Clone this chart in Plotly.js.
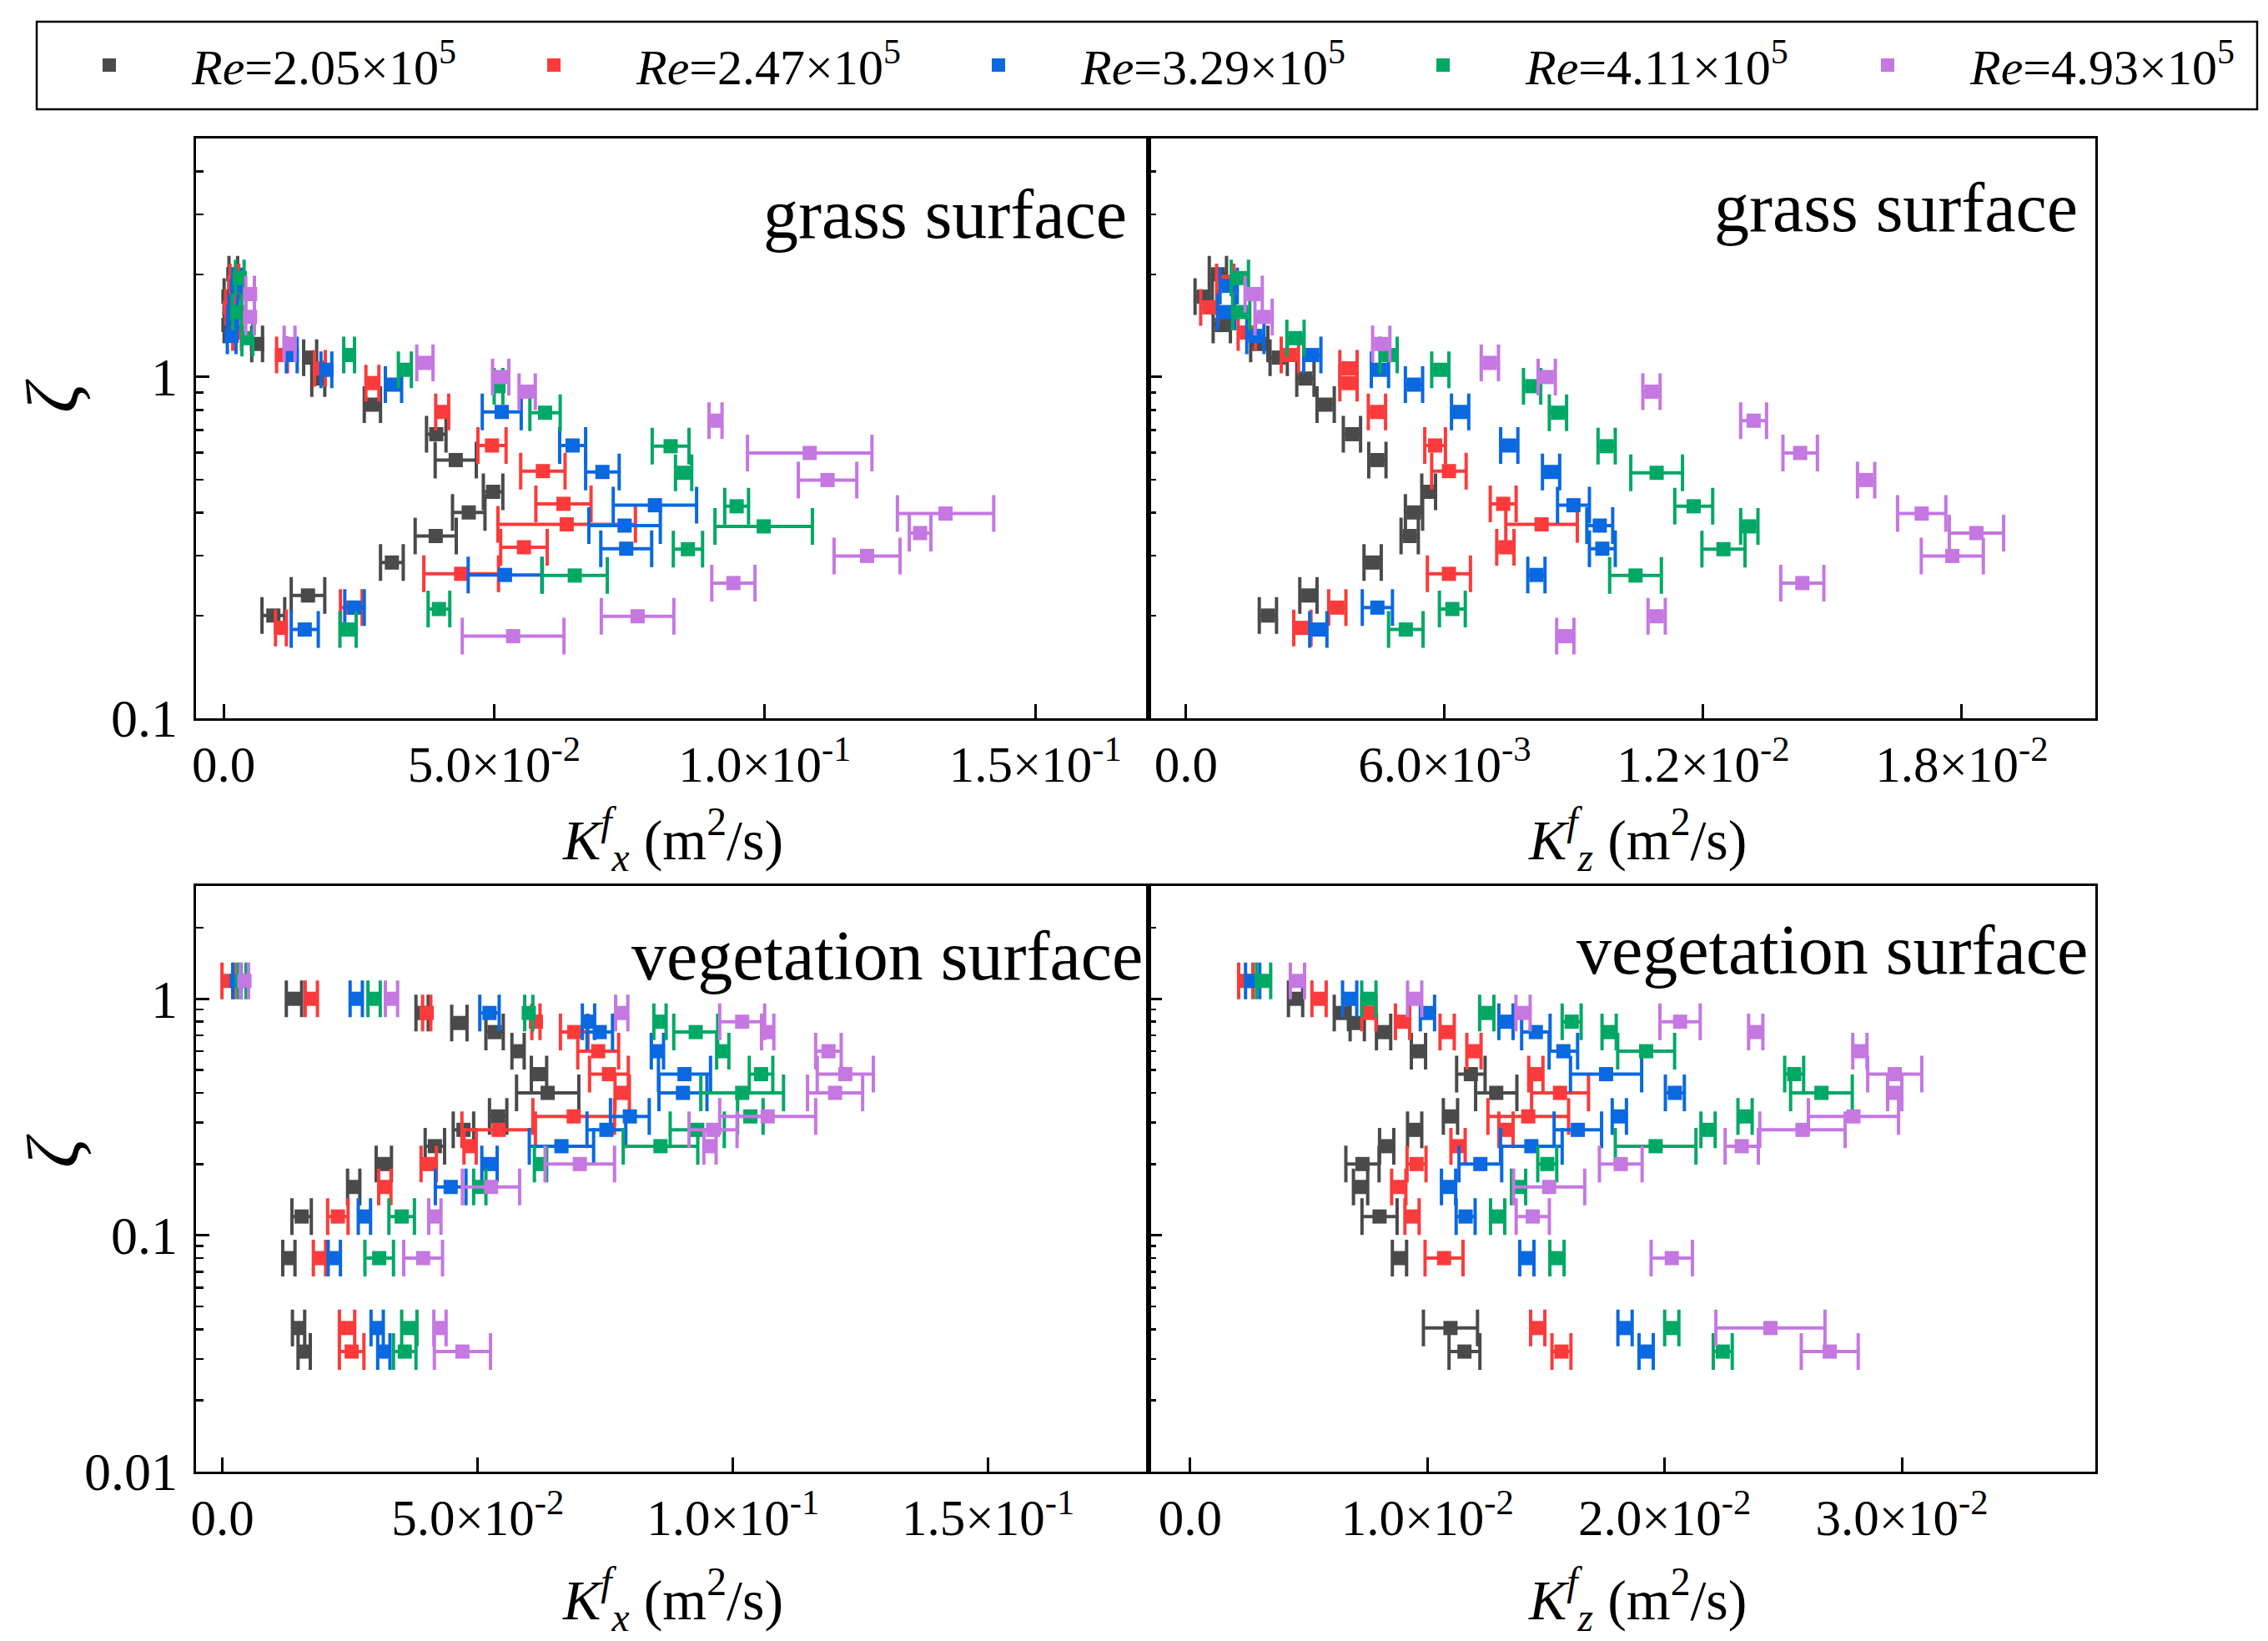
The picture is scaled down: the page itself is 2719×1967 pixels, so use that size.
<!DOCTYPE html>
<html>
<head>
<meta charset="utf-8">
<script src="https://cdn.plot.ly/plotly-3.0.1.min.js"></script>
<style>
  html, body { margin: 0; padding: 0; background: #fff; }
  #chart { width: 2719px; height: 1967px; }
</style>
</head>
<body>
<div id="chart"></div>
<script>
// Reynolds numbers and colours, in legend order
const reLabels = ['2.05', '2.47', '3.29', '4.11', '4.93']
const colors = ['#4a4a4a', '#fb3b3b', '#0a68e0', '#00a865', '#c577e2']

// grass surface: zeta levels per series (shared by Kx and Kz panels)
const grassZeta = [
  [2.0, 1.72, 1.42, 1.25, 1.14, 0.99, 0.83, 0.68, 0.571, 0.461, 0.401, 0.342, 0.286, 0.229, 0.20],
  [1.9, 1.6, 1.35, 1.16, 1.06, 0.96, 0.79, 0.63, 0.53, 0.425, 0.37, 0.317, 0.265, 0.211, 0.184],
  [1.85, 1.55, 1.32, 1.16, 1.05, 0.95, 0.79, 0.63, 0.527, 0.421, 0.367, 0.314, 0.263, 0.211, 0.182],
  [1.95, 1.55, 1.30, 1.16, 1.05, 0.94, 0.786, 0.627, 0.524, 0.418, 0.365, 0.313, 0.262, 0.209, 0.182],
  [1.75, 1.5, 1.25, 1.10, 1.0, 0.906, 0.745, 0.599, 0.499, 0.398, 0.349, 0.299, 0.249, 0.199, 0.174]
]
const grassKx = [
  [0.0018, 0.0009, 0.0009, 0.0062, 0.016, 0.0175, 0.0275, 0.0393, 0.0429, 0.0498, 0.0453, 0.0392, 0.0311, 0.0156, 0.0092],
  [0.002, 0.0012, 0.0025, 0.0108, 0.0178, 0.0275, 0.0404, 0.0496, 0.059, 0.0628, 0.0634, 0.0555, 0.0439, 0.0236, 0.0106],
  [0.0025, 0.0018, 0.0015, 0.0126, 0.019, 0.0314, 0.0514, 0.0645, 0.07, 0.0797, 0.0741, 0.0744, 0.052, 0.0242, 0.015],
  [0.003, 0.0025, 0.0044, 0.0232, 0.0335, 0.0508, 0.0594, 0.0826, 0.085, 0.0948, 0.0998, 0.0858, 0.0649, 0.0398, 0.023],
  [0.0049, 0.0049, 0.0122, 0.0372, 0.0512, 0.0561, 0.0909, 0.1083, 0.1116, 0.1334, 0.1287, 0.1189, 0.0942, 0.0765, 0.0535]
]
const grassKxErr = [
  [0.0008, 0.0008, 0.0008, 0.001, 0.0012, 0.0012, 0.0015, 0.0018, 0.0038, 0.0018, 0.003, 0.0038, 0.0021, 0.0031, 0.0021],
  [0.0008, 0.0008, 0.0008, 0.001, 0.001, 0.0012, 0.0012, 0.0026, 0.0041, 0.0051, 0.0127, 0.0043, 0.0069, 0.002, 0.001],
  [0.0008, 0.0008, 0.0008, 0.001, 0.001, 0.0015, 0.0036, 0.0024, 0.0031, 0.0077, 0.0066, 0.0047, 0.0068, 0.0018, 0.0025],
  [0.0008, 0.0008, 0.001, 0.001, 0.0012, 0.0008, 0.0028, 0.0034, 0.0015, 0.0022, 0.009, 0.0027, 0.006, 0.002, 0.0015],
  [0.0008, 0.0008, 0.001, 0.0015, 0.0015, 0.0015, 0.0012, 0.0115, 0.0054, 0.0089, 0.002, 0.0061, 0.004, 0.0067, 0.0094]
]
const grassKz = [
  [0.00074, 0.00041, 0.00083, 0.0017, 0.00215, 0.00277, 0.00324, 0.00385, 0.00444, 0.00563, 0.00529, 0.00519, 0.00433, 0.00284, 0.0019],
  [0.00091, 0.00054, 0.00141, 0.00241, 0.00377, 0.00377, 0.00443, 0.00578, 0.0061, 0.00736, 0.00825, 0.00741, 0.0061, 0.00351, 0.0027],
  [0.00099, 0.00093, 0.00161, 0.00293, 0.0045, 0.00529, 0.00636, 0.0075, 0.00847, 0.00899, 0.0096, 0.00966, 0.00813, 0.00444, 0.00307],
  [0.00125, 0.00128, 0.00254, 0.0047, 0.0059, 0.00803, 0.00863, 0.00976, 0.01092, 0.01178, 0.01307, 0.01247, 0.01043, 0.00618, 0.0051],
  [0.00157, 0.0018, 0.00453, 0.00705, 0.00837, 0.0108, 0.01317, 0.01425, 0.01578, 0.01707, 0.01834, 0.01778, 0.0143, 0.01092, 0.0088]
]
const grassKzErr = [
  [0.0002, 0.0002, 0.0002, 0.0002, 0.0002, 0.0002, 0.0002, 0.0002, 0.0002, 0.00016, 0.0002, 0.0002, 0.0002, 0.0002, 0.0002],
  [0.0002, 0.0002, 0.0002, 0.0002, 0.0002, 0.0002, 0.0002, 0.00024, 0.0004, 0.0003, 0.00083, 0.0002, 0.0005, 0.0002, 0.0002],
  [0.0002, 0.0002, 0.0002, 0.0002, 0.0002, 0.0002, 0.0002, 0.0002, 0.0002, 0.00037, 0.0003, 0.0003, 0.0002, 0.00035, 0.0002],
  [0.0002, 0.0002, 0.0002, 0.0002, 0.0002, 0.0002, 0.0002, 0.0002, 0.0006, 0.00044, 0.0002, 0.0005, 0.0006, 0.0003, 0.0004],
  [0.0002, 0.0002, 0.0002, 0.0002, 0.0002, 0.0002, 0.0003, 0.0004, 0.0002, 0.00056, 0.00063, 0.00072, 0.0005, 0.0002, 0.0002]
]

// vegetation surface: zeta levels per series (first series has no top point)
const vegZeta = [
  [1.0, 0.871, 0.79, 0.723, 0.60, 0.48, 0.40, 0.318, 0.279, 0.238, 0.20, 0.16, 0.12, 0.08, 0.0405, 0.0322],
  [1.19, 1.0, 0.871, 0.80, 0.723, 0.60, 0.48, 0.40, 0.318, 0.279, 0.238, 0.20, 0.16, 0.12, 0.08, 0.0405, 0.0322],
  [1.19, 1.0, 0.871, 0.80, 0.723, 0.60, 0.48, 0.40, 0.318, 0.279, 0.238, 0.20, 0.16, 0.12, 0.08, 0.0405, 0.0322],
  [1.19, 1.0, 0.871, 0.80, 0.723, 0.60, 0.48, 0.40, 0.318, 0.279, 0.238, 0.20, 0.16, 0.12, 0.08, 0.0405, 0.0322],
  [1.19, 1.0, 0.871, 0.80, 0.723, 0.60, 0.48, 0.40, 0.318, 0.279, 0.238, 0.20, 0.16, 0.12, 0.08, 0.0405, 0.0322]
]
const vegKx = [
  [0.014, 0.0391, 0.0464, 0.0533, 0.0579, 0.062, 0.0637, 0.054, 0.0472, 0.0416, 0.0316, 0.0257, 0.0155, 0.013, 0.0149, 0.016],
  [0.0011, 0.0174, 0.040, 0.0614, 0.0689, 0.0736, 0.0757, 0.0783, 0.0688, 0.0541, 0.0485, 0.0404, 0.0318, 0.0226, 0.019, 0.0244, 0.0253],
  [0.0028, 0.0262, 0.0523, 0.0717, 0.0739, 0.0852, 0.0905, 0.0902, 0.0798, 0.0752, 0.0664, 0.0523, 0.0447, 0.0278, 0.0219, 0.0303, 0.0316],
  [0.0038, 0.0297, 0.06, 0.0857, 0.0927, 0.098, 0.1055, 0.1018, 0.1034, 0.093, 0.0858, 0.0623, 0.0504, 0.0351, 0.0307, 0.0366, 0.0357],
  [0.0043, 0.0331, 0.0782, 0.1018, 0.1068, 0.1187, 0.122, 0.12, 0.1068, 0.0961, 0.0955, 0.07, 0.0526, 0.0416, 0.0393, 0.0426, 0.047]
]
const vegKxErr = [
  [0.0015, 0.0012, 0.0015, 0.0017, 0.0012, 0.0015, 0.0061, 0.0017, 0.002, 0.0019, 0.0015, 0.0012, 0.0019, 0.0012, 0.0012, 0.0012],
  [0.0012, 0.0012, 0.0008, 0.0008, 0.0027, 0.004, 0.0038, 0.0014, 0.008, 0.0072, 0.0012, 0.0015, 0.0012, 0.002, 0.0012, 0.0015, 0.0024],
  [0.0008, 0.0012, 0.0019, 0.0012, 0.0025, 0.0012, 0.0051, 0.0047, 0.0038, 0.0038, 0.0063, 0.0015, 0.003, 0.0012, 0.0012, 0.0012, 0.0012],
  [0.0008, 0.0012, 0.0008, 0.0012, 0.0043, 0.0012, 0.0023, 0.0081, 0.0025, 0.0053, 0.0073, 0.0012, 0.0012, 0.0025, 0.0028, 0.0015, 0.0022],
  [0.0008, 0.0012, 0.0012, 0.0044, 0.0012, 0.0025, 0.0055, 0.0054, 0.0094, 0.0047, 0.0012, 0.0068, 0.0056, 0.0012, 0.0038, 0.0012, 0.0055]
]
const vegKz = [
  [0.00444, 0.00637, 0.00704, 0.00815, 0.00962, 0.01183, 0.0129, 0.01097, 0.00946, 0.00828, 0.00726, 0.00718, 0.00798, 0.00882, 0.01097, 0.01156],
  [0.00234, 0.00543, 0.00753, 0.00895, 0.01083, 0.01196, 0.01457, 0.01559, 0.01425, 0.01331, 0.01129, 0.00954, 0.00879, 0.00935, 0.0107, 0.01465, 0.01565],
  [0.00263, 0.00672, 0.01, 0.01331, 0.01457, 0.01573, 0.01753, 0.02043, 0.01809, 0.01634, 0.01438, 0.01223, 0.01089, 0.01161, 0.01419, 0.01833, 0.01922],
  [0.00309, 0.00753, 0.0125, 0.01608, 0.01766, 0.01922, 0.02546, 0.02661, 0.02339, 0.02183, 0.01962, 0.01505, 0.01384, 0.01296, 0.01546, 0.0203, 0.02245],
  [0.00452, 0.00946, 0.01403, 0.02065, 0.02384, 0.02823, 0.0297, 0.0297, 0.02796, 0.02581, 0.02325, 0.01815, 0.01513, 0.01444, 0.0203, 0.02446, 0.02696]
]
const vegKzErr = [
  [0.0003, 0.0003, 0.0003, 0.0003, 0.0003, 0.0006, 0.00087, 0.0003, 0.0003, 0.0003, 0.0007, 0.0003, 0.00074, 0.0003, 0.00114, 0.00065],
  [0.0003, 0.0003, 0.0003, 0.0003, 0.0003, 0.0003, 0.0003, 0.0012, 0.0017, 0.0003, 0.0003, 0.0004, 0.0003, 0.0003, 0.0008, 0.0003, 0.0004],
  [0.0003, 0.0003, 0.0003, 0.0003, 0.0006, 0.0006, 0.0015, 0.0004, 0.0003, 0.001, 0.0013, 0.0009, 0.0003, 0.0004, 0.0003, 0.0003, 0.0003],
  [0.0003, 0.0003, 0.0003, 0.0004, 0.0003, 0.0012, 0.0004, 0.0013, 0.0003, 0.0003, 0.0017, 0.0004, 0.0003, 0.0003, 0.0003, 0.0003, 0.0004],
  [0.0003, 0.0003, 0.0003, 0.00085, 0.0003, 0.0003, 0.00114, 0.0003, 0.0019, 0.0018, 0.0007, 0.0009, 0.0015, 0.0007, 0.00087, 0.0023, 0.0012]
]

// tick labels
const kxTickVals = [0, 0.05, 0.1, 0.15]
const kxTickText = ['0.0', '5.0×10<sup>-2</sup>', '1.0×10<sup>-1</sup>', '1.5×10<sup>-1</sup>']
const kzGrassTickVals = [0, 0.006, 0.012, 0.018]
const kzGrassTickText = ['0.0', '6.0×10<sup>-3</sup>', '1.2×10<sup>-2</sup>', '1.8×10<sup>-2</sup>']
const kzVegTickVals = [0, 0.01, 0.02, 0.03]
const kzVegTickText = ['0.0', '1.0×10<sup>-2</sup>', '2.0×10<sup>-2</sup>', '3.0×10<sup>-2</sup>']

const FONT = 'Liberation Serif, Times New Roman, serif'

function panelTraces (zetaSets, kSets, errSets, xa, ya, legend) {
  return zetaSets.map((zeta, i) => ({
    type: 'scatter',
    mode: 'markers',
    x: kSets[i],
    y: zeta,
    xaxis: xa,
    yaxis: ya,
    name: '<i>Re</i>=' + reLabels[i] + '×10<sup>5</sup>',
    legendgroup: 'g' + i,
    showlegend: legend,
    marker: { symbol: 'square', size: 17, color: colors[i] },
    error_x: {
      type: 'data',
      array: errSets[i],
      visible: true,
      color: colors[i],
      thickness: 4,
      width: 22
    }
  }))
}

function minorVals (lo, hi) {
  const out = []
  for (let d = lo; d < hi; d++) {
    for (let m = 2; m <= 9; m++) out.push(m * Math.pow(10, d))
  }
  return out
}

function xAxis (domain, anchor, range, vals, text) {
  return {
    domain: domain,
    anchor: anchor,
    range: range,
    tickmode: 'array',
    tickvals: vals,
    ticktext: text,
    ticks: 'inside',
    ticklen: 17,
    tickwidth: 3,
    tickcolor: '#000',
    ticklabelstandoff: 0,
    showline: true,
    mirror: true,
    linewidth: 3,
    linecolor: '#000',
    showgrid: false,
    zeroline: false,
    tickfont: { family: FONT, size: 61, color: '#000' }
  }
}

function yAxis (domain, anchor, range, vals, labels, decades) {
  return {
    domain: domain,
    anchor: anchor,
    type: 'log',
    range: range,
    tickmode: 'array',
    tickvals: vals,
    ticktext: vals.map(String),
    showticklabels: labels,
    ticks: 'inside',
    ticklen: 16,
    tickwidth: 3,
    tickcolor: '#000',
    ticklabelstandoff: 6,
    minor: {
      ticks: 'inside',
      ticklen: 9,
      tickwidth: 2.5,
      tickcolor: '#000',
      tickmode: 'array',
      tickvals: minorVals(decades[0], decades[1]),
      showgrid: false
    },
    showline: true,
    mirror: true,
    linewidth: 3,
    linecolor: '#000',
    showgrid: false,
    zeroline: false,
    tickfont: { family: FONT, size: 64, color: '#000' }
  }
}

const leftDom = [0.0864, 0.5064]
const rightDom = [0.5064, 0.9239]
const topDom = [0.5623, 0.9156]
const botDom = [0.1032, 0.4601]

const data = [].concat(
  panelTraces(grassZeta, grassKx, grassKxErr, 'x', 'y', true),
  panelTraces(grassZeta, grassKz, grassKzErr, 'x2', 'y2', false),
  panelTraces(vegZeta, vegKx, vegKxErr, 'x3', 'y3', false),
  panelTraces(vegZeta, vegKz, vegKzErr, 'x4', 'y4', false)
)

const kxTitle = '<i>K</i><sup><i>f</i></sup><sub><i>x</i></sub> (m<sup>2</sup>/s)'
const kzTitle = '<i>K</i><sup><i>f</i></sup><sub><i>z</i></sub> (m<sup>2</sup>/s)'

function panelNote (text, x, y) {
  return {
    text: text,
    xref: 'paper',
    yref: 'paper',
    x: x,
    y: y,
    xanchor: 'right',
    yanchor: 'middle',
    showarrow: false,
    font: { family: FONT, size: 84, color: '#000' }
  }
}

function axisNote (text, x, y, angle, size) {
  return {
    text: text,
    xref: 'paper',
    yref: 'paper',
    x: x,
    y: y,
    xanchor: 'center',
    yanchor: 'middle',
    textangle: angle,
    showarrow: false,
    font: { family: FONT, size: size, color: '#000' }
  }
}

const layout = {
  width: 2719,
  height: 1967,
  margin: { l: 0, r: 0, t: 0, b: 0 },
  paper_bgcolor: '#fff',
  plot_bgcolor: '#fff',
  font: { family: FONT, color: '#000' },
  xaxis: xAxis(leftDom, 'y', [-0.0051, 0.1709], kxTickVals, kxTickText),
  yaxis: yAxis(topDom, 'x', [-1, Math.log10(5)], [0.1, 1], true, [-1, 1]),
  xaxis2: xAxis(rightDom, 'y2', [-0.00087, 0.0211], kzGrassTickVals, kzGrassTickText),
  yaxis2: yAxis(topDom, 'x2', [-1, Math.log10(5)], [0.1, 1], false, [-1, 1]),
  xaxis3: xAxis(leftDom, 'y3', [-0.0052, 0.1814], kxTickVals, kxTickText),
  yaxis3: yAxis(botDom, 'x3', [-2, Math.log10(3)], [0.01, 0.1, 1], true, [-2, 1]),
  xaxis4: xAxis(rightDom, 'y4', [-0.00176, 0.03816], kzVegTickVals, kzVegTickText),
  yaxis4: yAxis(botDom, 'x4', [-2, Math.log10(3)], [0.01, 0.1, 1], false, [-2, 1]),
  showlegend: true,
  legend: {
    orientation: 'h',
    x: 32 / 2719,
    y: 1 - 78 / 1967,
    xanchor: 'left',
    yanchor: 'middle',
    entrywidth: 330,
    entrywidthmode: 'pixels',
    itemwidth: 188,
    bgcolor: 'rgba(0,0,0,0)',
    borderwidth: 0,
    font: { family: FONT, size: 60, color: '#000' }
  },
  shapes: [{
    type: 'rect',
    xref: 'paper',
    yref: 'paper',
    x0: 44 / 2719,
    x1: 2706 / 2719,
    y0: 1 - 131 / 1967,
    y1: 1 - 26 / 1967,
    line: { color: '#000', width: 2.5 },
    fillcolor: 'rgba(0,0,0,0)'
  }],
  annotations: [
    panelNote('grass surface', 1353 / 2719, 1 - 256 / 1967),
    panelNote('grass surface', 2493 / 2719, 1 - 248 / 1967),
    panelNote('vegetation surface', 1372 / 2719, 1 - 1145 / 1967),
    panelNote('vegetation surface', 2505 / 2719, 1 - 1138 / 1967),
    axisNote(kxTitle, 806 / 2719, 1 - 1006 / 1967, 0, 68),
    axisNote(kzTitle, 1963 / 2719, 1 - 1006 / 1967, 0, 68),
    axisNote(kxTitle, 806 / 2719, 1 - 1917 / 1967, 0, 68),
    axisNote(kzTitle, 1963 / 2719, 1 - 1917 / 1967, 0, 68),
    axisNote('<i>ζ</i>', 64 / 2719, 1 - 475 / 1967, -90, 88),
    axisNote('<i>ζ</i>', 64 / 2719, 1 - 1380 / 1967, -90, 88)
  ]
}

Plotly.newPlot('chart', data, layout, { displayModeBar: false, staticPlot: true })
</script>
</body>
</html>
